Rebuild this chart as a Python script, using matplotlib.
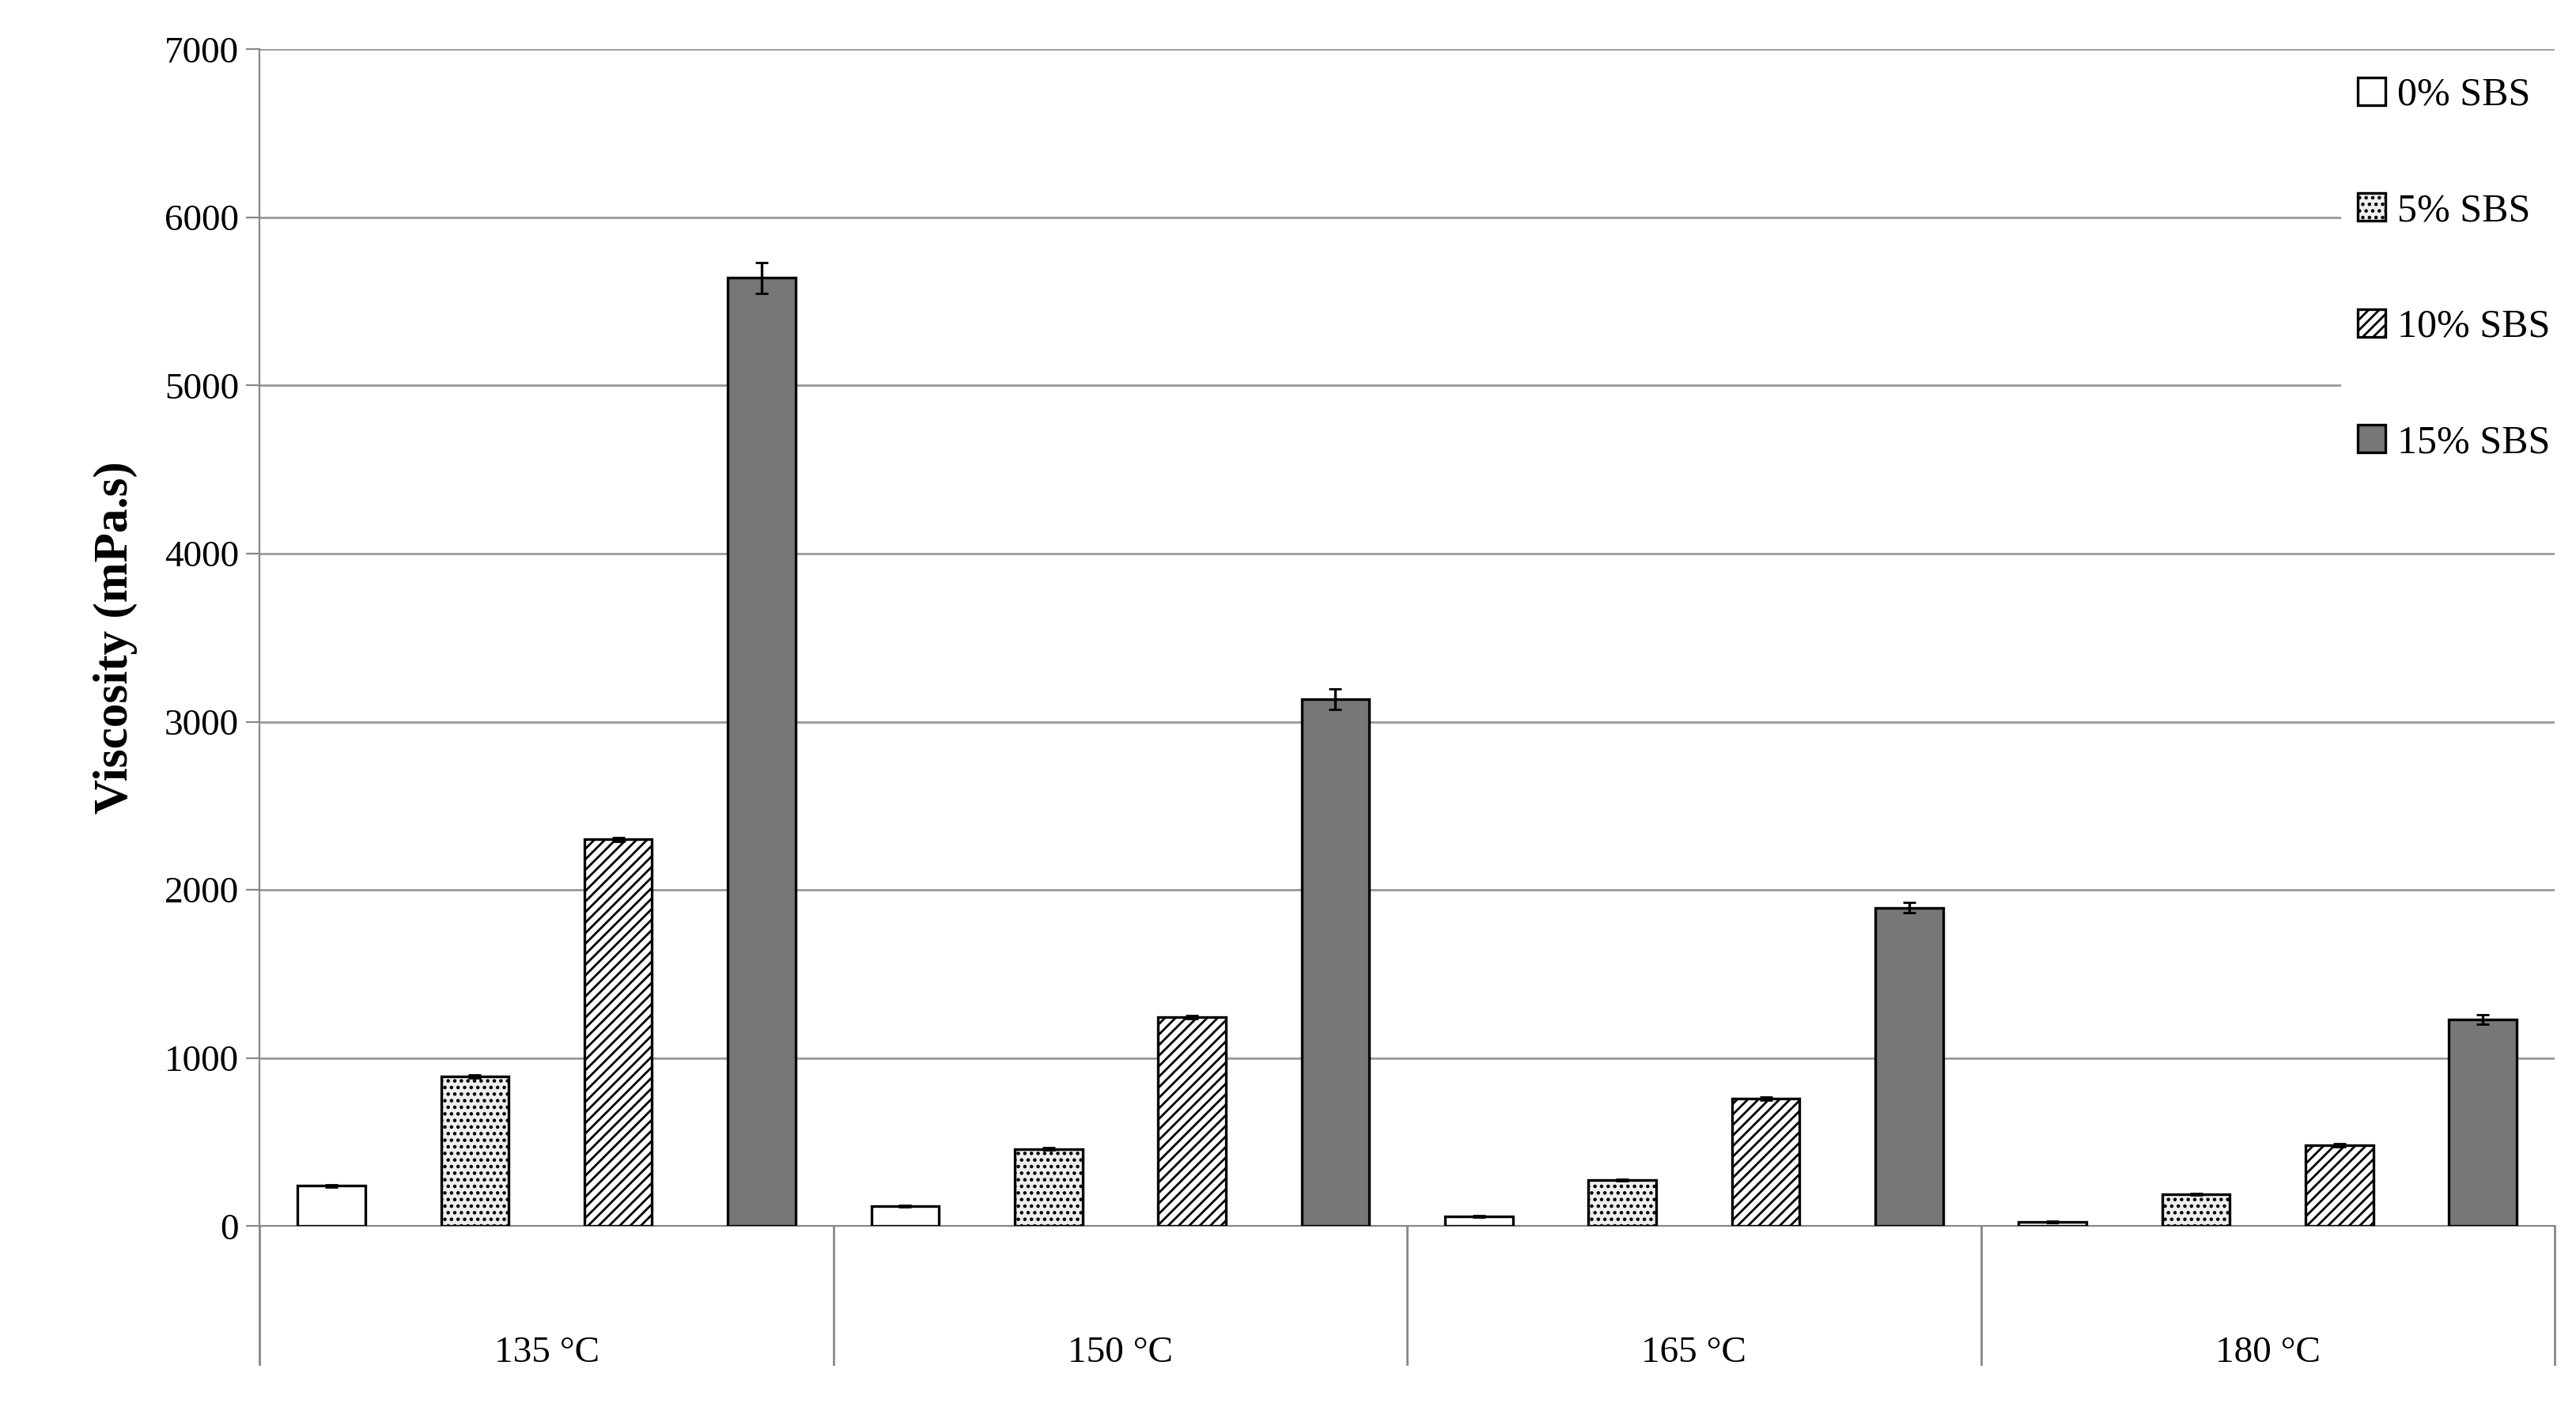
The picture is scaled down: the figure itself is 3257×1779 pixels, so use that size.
import matplotlib
matplotlib.use("Agg")
import matplotlib.pyplot as plt
import numpy as np
from matplotlib.transforms import blended_transform_factory

categories = ["135 °C", "150 °C", "165 °C", "180 °C"]
series = ["0% SBS", "5% SBS", "10% SBS", "15% SBS"]
values = {
    "0% SBS": [240, 120, 60, 25],
    "5% SBS": [890, 460, 275, 190],
    "10% SBS": [2300, 1245, 760, 480],
    "15% SBS": [5640, 3135, 1895, 1230],
}
errors = {
    "0% SBS": [8, 6, 5, 4],
    "5% SBS": [10, 8, 6, 6],
    "10% SBS": [12, 10, 8, 10],
    "15% SBS": [90, 60, 30, 30],
}

plt.rcParams['font.family'] = ['Liberation Serif', 'DejaVu Serif']
plt.rcParams['hatch.linewidth'] = 1.0
fig = plt.figure(figsize=(16.285, 8.895), dpi=200)
ax = fig.add_axes([0.1008, 0.1285, 0.8909, 0.8365])

styles = [
    dict(color="white", hatch=None),
    dict(color="#eeeeee", hatch="...."),
    dict(color="white", hatch="/////"),
    dict(color="#777777", hatch=None),
]
x = np.arange(len(categories))
w = 0.118
offs = [-0.375, -0.125, 0.125, 0.375]
for i, s in enumerate(series):
    ax.bar(x + offs[i], values[s], w, yerr=errors[s], facecolor=styles[i]["color"],
           hatch=styles[i]["hatch"], edgecolor="black", linewidth=1.2, label=s,
           error_kw=dict(ecolor="black", elinewidth=1.2, capsize=3), zorder=3)

ax.set_xlim(-0.5, 3.5)
ax.set_ylim(0, 7000)
ax.set_yticks(range(0, 7001, 1000))
ax.yaxis.grid(True, color="#999999", linewidth=1.0, zorder=0)
for sp in ["top", "right"]:
    ax.spines[sp].set_visible(False)
ax.spines["left"].set_color("#888888")
ax.spines["bottom"].set_color("#888888")
ax.tick_params(axis="y", labelsize=17, length=6, color="#888888")
ax.set_xticks(x)
ax.set_xticklabels(categories, fontsize=17)
ax.tick_params(axis="x", length=0, pad=50)
trans = blended_transform_factory(ax.transData, ax.transAxes)
for b in np.arange(-0.5, 3.6, 1.0):
    ax.plot([b, b], [0, -0.117], transform=trans, color="#888888", linewidth=1.0, clip_on=False)
ax.set_ylabel("Viscosity (mPa.s)", fontsize=22, fontweight="bold", labelpad=12)

leg = ax.legend(loc="upper right", bbox_to_anchor=(1.01, 1.0), fontsize=18, frameon=True,
                labelspacing=2.0, handlelength=0.7, handleheight=0.7, handletextpad=0.3,
                borderaxespad=0.3)
leg.get_frame().set_edgecolor("white")
leg.get_frame().set_facecolor("white")
leg.get_frame().set_alpha(1)
fig.savefig("out.png", dpi=200)
